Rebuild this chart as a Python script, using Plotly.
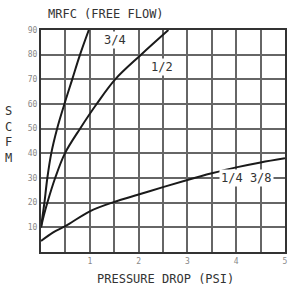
import plotly.graph_objects as go

# Data
x_34 = [0, 0.035, 0.07, 0.13, 0.21, 0.33, 0.48, 0.64, 0.80, 0.98]
y_34 = [10, 15, 20, 30, 40, 50, 60, 70, 80, 90]

x_12 = [0, 0.06, 0.13, 0.29, 0.49, 0.80, 1.14, 1.52, 2.05, 2.61]
y_12 = [10, 15, 20, 30, 40, 50, 60, 70, 80, 90]

x_14 = [0, 0.25, 0.5, 1, 1.5, 2, 2.5, 3, 3.5, 4, 4.5, 5]
y_14 = [4.5, 8, 10.5, 16.5, 20.3, 23.3, 26.3, 29.2, 31.9, 34.3, 36.3, 38]

x_tickvals = [0.5, 1, 1.5, 2, 2.5, 3, 3.5, 4, 4.5, 5]
x_ticktext = ["", "1", "", "2", "", "3", "", "4", "", "5"]
y_tickvals = [10, 20, 30, 40, 50, 60, 70, 80, 90]
y_ticktext = ["10", "20", "30", "40", "50", "60", "70", "80", "90"]

title = "MRFC (FREE FLOW)"
x_title = "PRESSURE DROP (PSI)"
y_title = "S<br>C<br>F<br>M"

labels = [("3/4", 1.51, 86), ("1/2", 2.48, 75.1), ("1/4 3/8", 4.21, 30)]

MONO = "DejaVu Sans Mono"
L, R, T, B = 41, 6, 30, 33
PW, PH = 294 - L - R, 285 - T - B

fig = go.Figure()
for xs, ys in [(x_34, y_34), (x_12, y_12), (x_14, y_14)]:
    fig.add_trace(go.Scatter(x=xs, y=ys, mode="lines",
                             line=dict(color="#1a1a1a", width=2, shape="spline", smoothing=1.0),
                             showlegend=False, hoverinfo="skip"))

for txt, lx, ly in labels:
    fig.add_annotation(x=lx, y=ly, text=txt, showarrow=False, xref="x", yref="y",
                       font=dict(family=MONO, size=12, color="#333"), bgcolor="white",
                       borderpad=1)

fig.add_annotation(x=(46 - L) / PW, y=1 + (T - 14) / PH, xref="paper", yref="paper",
                   text=title, showarrow=False, xanchor="left", yanchor="middle",
                   font=dict(family=MONO, size=12, color="#333"))
fig.add_annotation(x=(167 - L) / PW, y=-(279 - (285 - B)) / PH, xref="paper", yref="paper",
                   text=x_title, showarrow=False, xanchor="center", yanchor="middle",
                   font=dict(family=MONO, size=12, color="#333"))
fig.add_annotation(x=-(L - 8) / PW, y=((285 - B) - 134) / PH, xref="paper", yref="paper",
                   text=y_title, showarrow=False, xanchor="center", yanchor="middle",
                   font=dict(family=MONO, size=12, color="#333"))

fig.update_layout(
    width=294, height=285,
    margin=dict(l=L, r=R, t=T, b=B),
    paper_bgcolor="white", plot_bgcolor="white",
    xaxis=dict(range=[0, 5], tickvals=x_tickvals, ticktext=x_ticktext,
               showgrid=True, gridcolor="#666", gridwidth=1.5,
               showline=True, linecolor="#333", linewidth=2, mirror=True,
               ticks="", zeroline=False,
               tickfont=dict(family=MONO, size=8, color="#888")),
    yaxis=dict(range=[0, 90], tickvals=y_tickvals, ticktext=y_ticktext,
               showgrid=True, gridcolor="#666", gridwidth=1.5,
               showline=True, linecolor="#333", linewidth=2, mirror=True,
               ticks="", zeroline=False,
               tickfont=dict(family=MONO, size=8, color="#888")),
)

fig.write_html("out.html", config={"displayModeBar": False},
               post_script="document.body.style.margin='0';")
